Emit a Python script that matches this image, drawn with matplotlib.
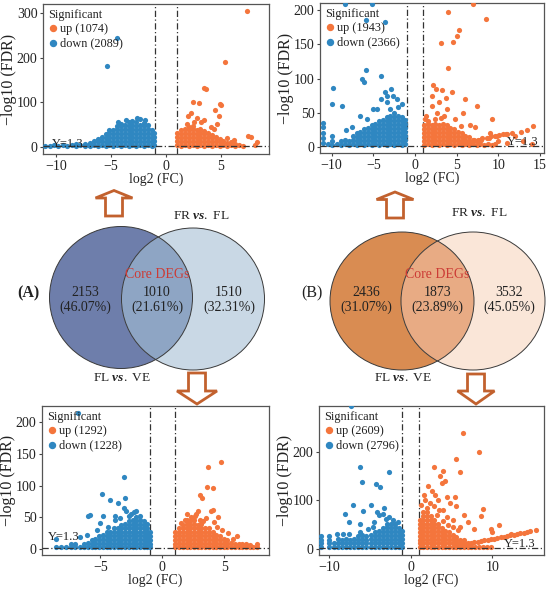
import numpy as np
import matplotlib
matplotlib.use("Agg")
import matplotlib.pyplot as plt
from matplotlib.patches import Ellipse, Polygon
from matplotlib.lines import Line2D

plt.rcParams['font.family'] = ['Liberation Serif', 'DejaVu Serif']
plt.rcParams['mathtext.fontset'] = 'custom'
plt.rcParams['mathtext.it'] = 'Liberation Serif:italic:bold'
plt.rcParams['mathtext.rm'] = 'Liberation Serif'

UP_C = '#f4753c'
DN_C = '#2f87c1'

# ---------------- data ----------------
# dense clusters: (log2FC, [-log10 FDR values]) ; scattered points: (log2FC, -log10 FDR)

# Panel TL
tl_counts = (1074, 2089)
tl_down_dense = [(-11, [2]), (-10.6, [2]), (-10.2, [3]), (-9.8, [2]), (-9.4, [3]), (-9.0, [2]), (-8.6, [3]),
                 (-8.2, [2, 6]), (-7.8, [3]), (-7.4, [2, 7]), (-7.0, [3]), (-6.9, [2, 8]), (-6.55, [4, 12]),
                 (-6.2, [2, 10, 18]), (-5.85, [4, 13, 22]), (-5.5, [2, 10, 19, 28]), (-5.15, [4, 13, 22, 31, 38]),
                 (-4.8, [2, 10, 19, 28, 37]), (-4.45, [4, 13, 22, 31, 40, 46]), (-4.1, [2, 10, 19, 28, 37, 46, 52]),
                 (-3.75, [4, 13, 22, 31, 40, 49]), (-3.4, [2, 10, 19, 28, 37, 46, 55]),
                 (-3.05, [4, 13, 22, 31, 40, 49, 58]), (-2.7, [2, 10, 19, 28, 37, 46, 55]),
                 (-2.35, [4, 13, 22, 31, 40, 49, 62]), (-2.0, [2, 10, 19, 28, 37, 46, 54]),
                 (-1.65, [4, 13, 22, 31, 40, 48]), (-1.3, [2, 10, 19, 28, 37]), (-1.05, [4, 13, 22, 31])]
tl_down_pts = [(-4.5, 245), (-5.4, 181), (-2.6, 64), (-3.6, 60), (-4.4, 55), (-1.9, 60)]
tl_up_dense = [(1.05, [3, 12, 21, 30]), (1.4, [2, 10, 19, 28, 37]), (1.75, [4, 13, 22, 31, 40]),
               (2.1, [2, 10, 19, 28, 37, 45]), (2.45, [4, 13, 22, 31, 40, 47]), (2.8, [2, 10, 19, 28, 37]),
               (3.15, [4, 13, 22, 31, 40]), (3.5, [2, 10, 19, 28, 35]), (3.85, [4, 13, 22, 30]),
               (4.2, [2, 10, 19, 27]), (4.55, [4, 13, 22]), (4.9, [2, 10, 18]), (5.25, [4, 12]), (5.6, [2, 9]),
               (5.95, [4, 10]), (6.3, [2, 7]), (6.65, [4]), (7.0, [2])]
tl_up_pts = [(7.4, 305), (5.4, 190), (3.5, 131), (3.7, 130), (2.5, 100), (3, 98), (4.9, 96), (5, 94), (4.5, 82),
             (4.7, 50), (3.2, 55), (2.6, 55), (4.1, 45), (2.3, 75), (2, 70), (2.8, 65), (3.5, 60), (4.8, 68),
             (7.5, 25), (7.8, 22), (8.3, 10), (8.1, 3), (4.4, 40), (1.9, 50), (5.6, 20), (6.2, 15)]

# Panel TR
tr_counts = (1943, 2366)
tr_down_dense = [(-11, [5, 12, 20, 28, 35]), (-10.4, [3]), (-9.9, [2, 8, 16]), (-9.4, [3]), (-8.9, [2, 8]),
                 (-8.4, [3, 9]), (-7.9, [2, 8]), (-7.45, [3, 9, 15]), (-7.0, [2, 8, 14, 20]),
                 (-6.55, [3, 9, 15, 21]), (-6.1, [2, 8, 14, 20, 26]), (-5.65, [3, 9, 15, 21, 27]),
                 (-5.2, [2, 8, 14, 20, 26, 32]), (-4.75, [3, 9, 15, 21, 27, 33]),
                 (-4.3, [2, 8, 14, 20, 26, 32, 38]), (-3.85, [3, 9, 15, 21, 27, 33, 39]),
                 (-3.4, [2, 8, 14, 20, 26, 32, 38, 44]), (-2.95, [3, 9, 15, 21, 27, 33, 39, 45]),
                 (-2.5, [2, 8, 14, 20, 26, 32, 38, 44, 50]), (-2.05, [3, 9, 15, 21, 27, 33, 39, 45]),
                 (-1.6, [2, 8, 14, 20, 26, 32, 38, 44]), (-1.15, [3, 9, 15, 21, 27, 33, 39])]
tr_down_pts = [(-5.8, 40), (-4.6, 55), (-3.4, 65), (-2.6, 75), (-2.2, 70), (-1.6, 62), (-5.9, 112), (-6.4, 100),
               (-4.1, 103), (-9.8, 86), (-9.9, 62), (-8.8, 60), (-6.1, 95), (-3.6, 80), (-2.9, 85), (-6.6, 45),
               (-7.5, 28), (-8.3, 25), (-5, 55), (-4.1, 70), (-3.3, 75), (-2.0, 58), (-3.0, 55),
               (-8.4, 210), (-5.2, 210), (-3.6, 183), (-5.9, 186)]
tr_up_dense = [(1.1, [2, 8, 14, 20, 26, 32]), (1.55, [3, 9, 15, 21, 27, 33]), (2.0, [2, 8, 14, 20, 26, 32]),
               (2.45, [3, 9, 15, 21, 27, 33]), (2.9, [2, 8, 14, 20, 26, 32]), (3.35, [3, 9, 15, 21, 27, 33]),
               (3.8, [2, 8, 14, 20, 26, 31]), (4.25, [3, 9, 15, 21, 27]), (4.7, [2, 8, 14, 20, 26]),
               (5.15, [3, 9, 15, 21]), (5.6, [2, 8, 14, 20]), (6.05, [3, 9, 15]), (6.5, [2, 8, 14]),
               (6.95, [3, 9]), (7.4, [2, 8]), (7.85, [3, 9]), (8.3, [2]), (8.75, [3]), (9.2, [2]), (9.65, [3])]
tr_up_pts = [(5.6, 5), (6.1, 6), (6.6, 7), (7.1, 9), (7.6, 10), (8.1, 12), (8.6, 13), (9.1, 15), (9.6, 16),
             (10.1, 17), (10.6, 18), (11.1, 19), (11.6, 20), (5.9, 4), (6.9, 7), (7.9, 10), (8.9, 13),
             (9.9, 15), (10.9, 18),
             (7, 210), (4, 198), (8.5, 187), (5.3, 171), (5.1, 163), (4.6, 154), (3.1, 152), (4, 115),
             (2.2, 90), (2.5, 85), (3.3, 83), (4.5, 80), (2.1, 75), (3.7, 72), (6, 70), (7.5, 60), (9.2, 40),
             (12.7, 22), (14.2, 30), (13.5, 25), (1.2, 40), (1.3, 45), (2, 60), (2.9, 65), (3.9, 55),
             (2.6, 50), (3.5, 45), (4.8, 40), (5.5, 30), (6.6, 32), (7.2, 28), (5.8, 50), (12, 15), (13, 8),
             (14, 3), (11, 5), (9, 20), (10, 8), (1.6, 38), (2.4, 40), (3.1, 42)]

# Panel BL
bl_counts = (1292, 1228)
bl_down_dense = [(-8.6, [2, 15]), (-8.2, [3]), (-7.8, [2]), (-7.4, [3, 8]), (-7.0, [2, 8]), (-6.6, [3]),
                 (-6.3, [2, 8]), (-6.0, [3, 9]), (-5.7, [2, 8, 14]), (-5.4, [3, 9, 15]), (-5.1, [2, 8, 14, 20]),
                 (-4.8, [3, 9, 15, 21]), (-4.5, [2, 8, 14, 20, 26]), (-4.2, [3, 9, 15, 21, 27]),
                 (-3.9, [2, 8, 14, 20, 26, 32]), (-3.6, [3, 9, 15, 21, 27, 33]),
                 (-3.3, [2, 8, 14, 20, 26, 32, 38]), (-3.0, [3, 9, 15, 21, 27, 33, 39]),
                 (-2.7, [2, 8, 14, 20, 26, 32, 38, 44]), (-2.4, [3, 9, 15, 21, 27, 33, 39, 45]),
                 (-2.1, [2, 8, 14, 20, 26, 32, 38, 44, 50]), (-1.8, [3, 9, 15, 21, 27, 33, 39, 45, 51]),
                 (-1.5, [2, 8, 14, 20, 26, 32, 38, 44]), (-1.2, [3, 9, 15, 21, 27, 33, 39]),
                 (-1.02, [2, 8, 14, 20, 26])]
bl_down_pts = [(-6.8, 215), (-3.1, 113), (-4.9, 86), (-3.0, 81), (-4.2, 77), (-3.6, 73), (-3.1, 64), (-2.9, 60),
               (-6, 52), (-5.8, 53), (-4.8, 52), (-3.8, 52), (-5.3, 30), (-6.6, 19), (-6.1, 22), (-2.5, 55),
               (-2.3, 58), (-4.4, 35), (-3.8, 45), (-2.1, 60), (-5, 40), (-2.7, 52), (-3.4, 48)]
bl_up_dense = [(1.05, [2, 8, 14, 20, 26]), (1.35, [3, 9, 15, 21, 27, 33]), (1.65, [2, 8, 14, 20, 26, 32, 38]),
               (1.95, [3, 9, 15, 21, 27, 33, 39, 45]), (2.25, [2, 8, 14, 20, 26, 32, 38, 44]),
               (2.55, [3, 9, 15, 21, 27, 33, 39, 45]), (2.85, [2, 8, 14, 20, 26, 32, 38]),
               (3.15, [3, 9, 15, 21, 27, 33, 39]), (3.45, [2, 8, 14, 20, 26, 32]),
               (3.75, [3, 9, 15, 21, 27, 33]), (4.05, [2, 8, 14, 20, 26]), (4.35, [3, 9, 15, 21]),
               (4.65, [2, 8, 14, 20]), (4.95, [3, 9, 15]), (5.25, [2, 8, 14]), (5.55, [3, 9]), (5.85, [2, 8]),
               (6.15, [3, 8]), (6.45, [2, 7]), (6.75, [3, 7]), (7.05, [2, 6]), (7.35, [3]), (7.65, [2, 8])]
bl_up_pts = [(4.7, 138), (3.7, 130), (3.6, 98), (4.1, 96), (3.0, 85), (3.2, 81), (4.1, 62), (3.9, 60), (2.7, 55),
             (2, 55), (2.3, 50), (3.5, 48), (4.2, 42), (4.8, 30), (5.3, 25), (6, 20), (5.7, 15), (3, 45),
             (1.8, 45), (4.5, 50), (2.9, 60), (1.5, 40), (2.6, 52), (3.3, 44), (4.4, 34)]

# Panel BR
br_counts = (2609, 2796)
br_down_dense = [(-10.9, [3, 11, 19, 27]), (-10.0, [3, 11, 19, 27]), (-9.4, [3, 11]), (-8.9, [4, 12, 20]),
                 (-8.4, [3, 11, 19]), (-7.9, [4, 12, 20]), (-7.4, [3, 11, 19]), (-6.9, [4, 12, 20]),
                 (-6.4, [3, 11, 19, 27]), (-5.9, [4, 12, 20, 28]), (-5.4, [3, 11, 19, 27]),
                 (-4.9, [4, 12, 20, 28]), (-4.4, [3, 11, 19, 27, 35]), (-3.9, [4, 12, 20, 28, 36]),
                 (-3.4, [3, 11, 19, 27, 35, 43]), (-2.9, [4, 12, 20, 28, 36, 44, 52]),
                 (-2.4, [3, 11, 19, 27, 35, 43, 51]), (-1.9, [4, 12, 20, 28, 36, 44, 52]),
                 (-1.4, [3, 11, 19, 27, 35, 43]), (-1.05, [4, 12, 20, 28, 36])]
br_down_pts = [(-7.3, 295), (-6.2, 169), (-2.7, 159), (-5.9, 137), (-4.2, 134), (-3.7, 128), (-7.1, 90),
               (-4.8, 90), (-3.2, 85), (-8, 71), (-5.8, 78), (-7.5, 56), (-6.2, 52), (-3.9, 70), (-4.1, 75),
               (-3.4, 72), (-3, 62), (-5.2, 40), (-6.2, 35), (-8.3, 30), (-7.5, 30), (-4.5, 55), (-2.2, 60),
               (-2.6, 66), (-1.6, 55), (-9.0, 30), (-4.6, 45)]
br_up_dense = [(1.1, [3, 11, 19, 27, 35, 43, 51, 59]), (1.55, [4, 12, 20, 28, 36, 44, 52, 60, 68, 76]),
               (2.0, [3, 11, 19, 27, 35, 43, 51, 59, 67, 75, 85]), (2.45, [4, 12, 20, 28, 36, 44, 52, 60, 68]),
               (2.9, [3, 11, 19, 27, 35, 43, 51, 59]), (3.35, [4, 12, 20, 28, 36, 44, 52]),
               (3.8, [3, 11, 19, 27, 35, 43]), (4.25, [4, 12, 20, 28, 36]), (4.7, [3, 11, 19, 27, 34]),
               (5.15, [4, 12, 20, 28]), (5.6, [3, 11, 19, 25]), (6.05, [4, 12, 19]), (6.5, [3, 11, 17]),
               (6.95, [4, 12]), (7.4, [3, 10]), (7.85, [4]), (8.3, [3]), (8.8, [4]), (9.3, [3]), (9.8, [4])]
br_up_pts = [(5.8, 7), (6.6, 9), (7.4, 12), (8.2, 14), (9, 17), (9.8, 20), (10.6, 23), (11.4, 25), (12.2, 28),
             (13, 31), (13.8, 33), (14.6, 36), (15.3, 38), (6.2, 8), (7, 10), (7.8, 13), (8.6, 16), (9.4, 18),
             (10.2, 21), (11, 24), (11.8, 27), (12.6, 29), (13.4, 32), (14.2, 35),
             (6.4, 240), (8.4, 199), (5.5, 186), (6.0, 158), (2.9, 169), (4.0, 160), (4.2, 141), (4.4, 107),
             (5.4, 107), (8.9, 83), (8.6, 67), (9.8, 40), (10.8, 50), (12.3, 30), (3, 110), (2.6, 120),
             (3.3, 100), (4.8, 95), (5.5, 88), (6.5, 70), (7, 55), (4, 80), (3.5, 80), (3.2, 70), (5.2, 60),
             (6, 45), (7.7, 40), (10, 35), (2.1, 130), (1.6, 110), (3.6, 150), (3.8, 135), (1.3, 90),
             (1.8, 100), (2.4, 95), (2.8, 88), (4.4, 65), (3.9, 58), (4.6, 50), (5.2, 45), (5.8, 38)]

# Venn data
venn_a = [2153, 1010, 1510]
venn_b = [2436, 1873, 3532]


def flatten(dense, pts):
    xy = [(x, y) for x, ys in dense for y in ys] + list(pts)
    return np.array(xy, dtype=float)


# ---------------- layout ----------------
W, H = 550, 591
fig = plt.figure(figsize=(W / 100, H / 100), dpi=100)


def px_axes(x0, y0, x1, y1):
    return fig.add_axes([x0 / W, 1 - y1 / H, (x1 - x0) / W, (y1 - y0) / H])


bg = fig.add_axes([0, 0, 1, 1])
bg.set_xlim(0, W)
bg.set_ylim(H, 0)
bg.axis('off')


def venn(cl, cr, size, colors, vals, lab_top, lab_bot, tag, tag_bold):
    c_left, c_right, c_mid = colors
    bg.add_patch(Ellipse(cl, size[0], size[1], facecolor=c_left, edgecolor='none', zorder=1))
    bg.add_patch(Ellipse(cr, size[0], size[1], facecolor=c_right, edgecolor='none', zorder=1))
    mid = Ellipse(cr, size[0], size[1], facecolor=c_mid, edgecolor='none', zorder=2)
    bg.add_patch(mid)
    mid.set_clip_path(Ellipse(cl, size[0], size[1], transform=bg.transData))
    for c in (cl, cr):
        bg.add_patch(Ellipse(c, size[0], size[1], facecolor='none', edgecolor='#3a3a3a', lw=0.7, zorder=3))
    total = sum(vals)
    xs = [cl[0] - 36, (cl[0] + cr[0]) / 2, cr[0] + 36]
    for x, v in zip(xs, vals):
        bg.text(x, 293, f'{v}', ha='center', va='center', fontsize=10, color='#222', zorder=4)
        bg.text(x, 307.5, f'({100 * v / total:.2f}%)', ha='center', va='center', fontsize=10,
                color='#222', zorder=4)
    bg.text((cl[0] + cr[0]) / 2, 274, 'Core DEGs', ha='center', va='center', fontsize=10,
            color='#cc3b35', zorder=4)
    bg.text(lab_top[0], lab_top[1], r'FR $\it{vs.}$ FL', ha='center', va='center', fontsize=9.6, color='#222')
    bg.text(lab_bot[0], lab_bot[1], r'FL $\it{vs.}$ VE', ha='center', va='center', fontsize=9.6, color='#222')
    bg.text(tag[0], tag[1], tag[2], ha='center', va='center', fontsize=11.5,
            fontweight='bold' if tag_bold else 'normal', color='#222')


venn((121, 297.5), (193, 299), (143, 142), ('#6e7eab', '#c9d8e5', '#8ea5c4'), venn_a,
     (201, 216), (122, 378), (28, 293, '(A)'), True)
venn((402, 301), (473, 301), (144, 138), ('#d98c52', '#fae6d8', '#e8ab84'), venn_b,
     (479, 213), (403, 378), (312, 293, '(B)'), False)

ARROW_C = '#c2612e'


def arrow(cx, tip, base, end, hw, sw):
    verts = [(cx, tip), (cx + hw, base), (cx + sw, base), (cx + sw, end),
             (cx - sw, end), (cx - sw, base), (cx - hw, base)]
    bg.add_patch(Polygon(verts, closed=True, facecolor='white', edgecolor=ARROW_C,
                         lw=2.0, joinstyle='miter', zorder=5))


arrow(114, 190.5, 198, 216, 18.5, 8.5)
arrow(395, 192, 199.5, 218, 18.5, 8.5)
arrow(197, 404, 391, 373, 20, 8.5)
arrow(476, 404, 391, 374, 18.5, 8.5)

# ---------------- volcano panels ----------------
panels = [
    dict(box=(43, 4, 269, 154), up=(tl_up_dense, tl_up_pts), down=(tl_down_dense, tl_down_pts),
         counts=tl_counts, xlim=(-11.2, 9.4), ylim=(-16.5, 321), xt=[-10, -5, 0, 5],
         yt=[0, 100, 200, 300], ytext=(-10.4, 6)),
    dict(box=(320, 3, 544, 153), up=(tr_up_dense, tr_up_pts), down=(tr_down_dense, tr_down_pts),
         counts=tr_counts, xlim=(-11.4, 15.5), ylim=(-9.5, 211), xt=[-10, -5, 0, 5, 10, 15],
         yt=[0, 50, 100, 150, 200], ytext=(11.1, 7)),
    dict(box=(42, 406, 269, 555), up=(bl_up_dense, bl_up_pts), down=(bl_down_dense, bl_down_pts),
         counts=bl_counts, xlim=(-9.7, 8.6), ylim=(-10, 226), xt=[-5, 0, 5],
         yt=[0, 50, 100, 150, 200], ytext=(-9.2, 18)),
    dict(box=(319, 406, 544, 555), up=(br_up_dense, br_up_pts), down=(br_down_dense, br_down_pts),
         counts=br_counts, xlim=(-11.2, 16.3), ylim=(-13, 295), xt=[-10, 0, 10],
         yt=[0, 100, 200], ytext=(11.4, 9.5)),
]

dash = (0, (5, 2, 1, 2))
for p in panels:
    ax = px_axes(*p['box'])
    d = flatten(*p['down'])
    u = flatten(*p['up'])
    n_up, n_down = p['counts']
    ax.scatter(d[:, 0], d[:, 1], s=14, color=DN_C, lw=0, zorder=3)
    ax.scatter(u[:, 0], u[:, 1], s=14, color=UP_C, lw=0, zorder=3)
    for xv in (-1, 1):
        ax.axvline(xv, color='#333333', lw=0.9, ls=dash, zorder=2)
    ax.axhline(1.3, color='#333333', lw=0.9, ls=dash, zorder=4)
    tx, ty = p['ytext']
    ax.text(tx, ty, 'Y=1.3', fontsize=9, ha='left', va='center', color='#222', zorder=5)
    ax.set_xlim(*p['xlim'])
    ax.set_ylim(*p['ylim'])
    ax.set_xticks(p['xt'])
    ax.set_yticks(p['yt'])
    ax.tick_params(direction='out', length=2.5, width=0.8, color='#444', labelcolor='#222',
                   labelsize=10, pad=1.5)
    for s in ax.spines.values():
        s.set_color('#555555')
        s.set_linewidth(0.9)
    ax.set_xlabel('log2 (FC)', fontsize=10, labelpad=0, color='#222')
    ax.set_ylabel('\u2212log10 (FDR)', fontsize=11.5, color='#222')
    x0, y0, x1, y1 = p['box']
    # label centre about 34 px left of the frame, as in the reference
    ax.yaxis.set_label_coords(-34.0 / (x1 - x0), 0.5)
    ax.yaxis.label.set_va('center')
    handles = [Line2D([], [], marker='o', ls='', color=UP_C, ms=4.3),
               Line2D([], [], marker='o', ls='', color=DN_C, ms=4.3)]
    leg = ax.legend(handles, [f'up ({n_up})', f'down ({n_down})'], title='Significant',
                    loc='upper left', frameon=False, fontsize=8.8, title_fontsize=8.8,
                    handletextpad=0.1, borderaxespad=0.15, labelspacing=0.2, handlelength=0.9,
                    borderpad=0.25, alignment='left')
    for t in leg.get_texts():
        t.set_color('#222')
    leg.get_title().set_color('#222')

fig.savefig('out.png', dpi=100)
